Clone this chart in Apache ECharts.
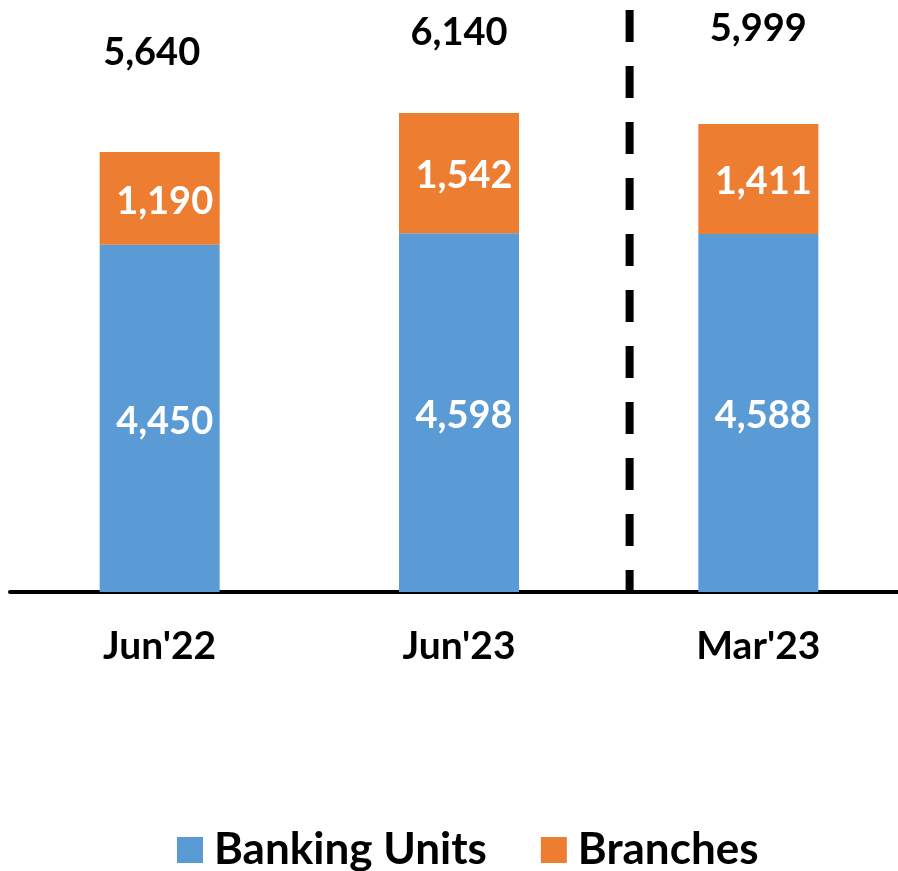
<!DOCTYPE html>
<html>
<head>
<meta charset="utf-8">
<title>Banking Units and Branches</title>
<script src="https://cdn.jsdelivr.net/npm/echarts@6/dist/echarts.min.js"></script>
<style>
  html, body { margin: 0; padding: 0; background: #fff; }
  #chart { width: 898px; height: 871px; }
</style>
</head>
<body>
<div id="chart"></div>
<script>
// data
var categories = ["Jun'22", "Jun'23", "Mar'23"];
var bankingUnits = [4450, 4598, 4588];
var branches = [1190, 1542, 1411];
var totals = [5640, 6140, 5999];

// where the dashed separator sits, in category widths from the left
var dividerAt = 2.07;
// the total labels are not at the same height above every bar
var totalOffsets = [[-8, -99], [0, -80], [0, -95]];

var FONT = "Lato";
var fmt = function (v) { return Number(v).toLocaleString("en-US"); };

var valueLabel = function (color, extra) {
  var l = {
    show: true, position: "inside",
    formatter: function (p) { return fmt(p.value); },
    fontFamily: FONT, fontSize: 38, fontWeight: "bold", color: color,
    textBorderWidth: 0
  };
  for (var k in extra) l[k] = extra[k];
  return l;
};

var chart = echarts.init(document.getElementById("chart"));

var option = {
  animation: false,
  textStyle: { fontFamily: FONT },
  grid: { left: 10, right: -10, top: 10, bottom: 279, outerBoundsMode: "none", containLabel: false },
  legend: {
    data: ["Banking Units", "Branches"],
    left: 172,
    top: 823,
    icon: "rect",
    itemWidth: 26,
    itemHeight: 26,
    itemGap: 54,
    textStyle: { fontFamily: FONT, fontSize: 44, fontWeight: "bold", color: "#000", padding: [0, 0, 0, 6] }
  },
  xAxis: [
    {
      type: "category",
      data: categories,
      axisLine: { lineStyle: { color: "#000", width: 4 } },
      axisTick: { show: false },
      axisLabel: { margin: 35, fontFamily: FONT, fontSize: 39, fontWeight: "bold", color: "#000" }
    },
    { type: "value", min: 0, max: 3, show: false }
  ],
  yAxis: {
    type: "value",
    min: 0,
    max: 7460,
    show: false,
    splitLine: { show: false }
  },
  series: [
    {
      name: "Banking Units",
      type: "bar",
      stack: "total",
      barWidth: 120,
      itemStyle: { color: "#5B9BD5" },
      label: valueLabel("#fff", { offset: [5, 3] }),
      data: bankingUnits
    },
    {
      name: "Branches",
      type: "bar",
      stack: "total",
      barWidth: 120,
      itemStyle: { color: "#ED7D31" },
      label: valueLabel("#fff", { offset: [5, 3] }),
      data: branches
    },
    {
      // zero-height segment on top of each stack, only there to carry the total label
      name: "Total",
      type: "bar",
      stack: "total",
      barWidth: 120,
      silent: true,
      itemStyle: { color: "transparent" },
      data: totals.map(function (v, i) {
        return {
          value: 0,
          label: valueLabel("#000", {
            offset: totalOffsets[i],
            textBorderColor: "transparent",
            formatter: function (p) { return fmt(totals[p.dataIndex]); }
          })
        };
      })
    },
    {
      name: "divider",
      type: "line",
      xAxisIndex: 1,
      symbol: "none",
      silent: true,
      lineStyle: { color: "#000", width: 8, type: [32, 24], cap: "butt" },
      data: [[dividerAt, 7460], [dividerAt, 0]]
    }
  ]
};

chart.setOption(option);
</script>
</body>
</html>
